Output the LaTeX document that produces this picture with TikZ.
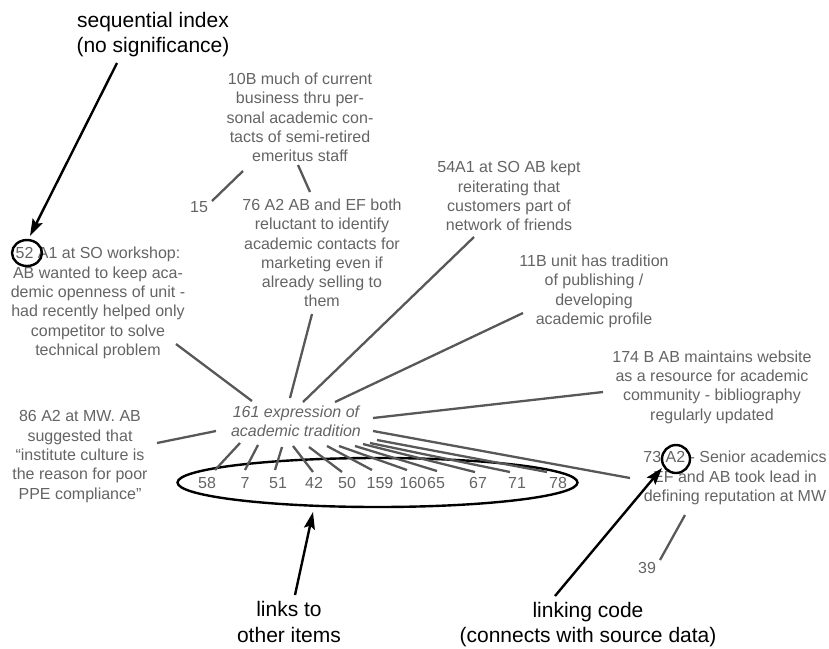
\documentclass[tikz,border=0pt]{standalone}
\usepackage{fontspec}
\setmainfont{Liberation Sans}
\usetikzlibrary{arrows.meta,shapes.geometric}
\definecolor{txtgray}{RGB}{100,100,100}
\definecolor{lngray}{RGB}{88,88,88}
\tikzset{
  item/.style={inner sep=0pt, align=center, text=txtgray, font=\fontsize{16}{19.3}\selectfont},
  num/.style={inner sep=0pt, text=txtgray, font=\fontsize{16}{19.3}\selectfont},
  note/.style={inner sep=0pt, align=center, text=black, font=\fontsize{21}{25.5}\selectfont},
  link/.style={draw=lngray, line width=2.3pt},
  pointer/.style={draw=black, line width=2.4pt, -{Stealth[length=17pt,width=11pt,inset=3pt]}},
  ring/.style={draw=black, line width=2.4pt}
}
\begin{document}
\begin{tikzpicture}[x=1pt,y=-1pt]
\useasboundingbox (0,0) rectangle (829,648);
% annotations
\node[note] (seq) at (153,34.5) {sequential index\\(no significance)};
\node[note] (lnk) at (289,622) {links to\\other items};
\node[note] (code) at (588,624.5) {linking code\\(connects with source data)};
% items
\node[item] (i10) at (300,117.5) {10B much of current\\business thru per-\\sonal academic con-\\tacts of semi-retired\\emeritus staff};
\node[num] (i15) at (199,207) {15};
\node[item] (i76) at (322,253) {76 A2 AB and EF both\\reluctant to identify\\academic contacts for\\marketing even if\\already selling to\\them};
\node[item] (i54) at (509,196) {54A1 at SO AB kept\\reiterating that\\customers part of\\network of friends};
\node[item] (i11) at (594,291.5) {11B unit has tradition\\of publishing /\\developing\\academic profile};
\node[item] (i52) at (98,303) {52 A1 at SO workshop:\\AB wanted to keep aca-\\demic openness of unit -\\had recently helped only\\competitor to solve\\technical problem};
\node[item] (i86) at (80,456.5) {86 A2 at MW. AB\\suggested that\\“institute culture is\\the reason for poor\\PPE compliance”};
\node[item,font=\fontsize{16}{19.3}\selectfont\itshape] (c161) at (296,421.5) {161 expression of\\academic tradition};
\node[item] (i174) at (712,387) {174 B AB maintains website\\as a resource for academic\\community - bibliography\\regularly updated};
\node[item] (i73) at (735,478) {73 A2 - Senior academics\\EF and AB took lead in\\defining reputation at MW};
\node[num] (i39) at (647,568) {39};
% linked numbers
\node[num] (n58) at (207,483) {58};
\node[num] (n7) at (245,483) {7};
\node[num] (n51) at (278,483) {51};
\node[num] (n42) at (314,483) {42};
\node[num] (n50) at (347,483) {50};
\node[num] (n159) at (380,483) {159};
\node[num] (n160) at (413,483) {160};
\node[num] (n65) at (436,483) {65};
\node[num] (n67) at (478,483) {67};
\node[num] (n71) at (517,483) {71};
\node[num] (n78) at (558,483) {78};
% ellipse round the links
\node[ring, ellipse, minimum width=400pt, minimum height=49pt, inner sep=0pt] (links) at (377.5,482.5) {};
% rings round the codes
\draw[ring] (27,253) ellipse [x radius=15, y radius=13];
\draw[ring] (676,459) ellipse [x radius=14, y radius=14];
% connector end points
\coordinate (a58) at (240,443); \coordinate (b58) at (215,470);
\coordinate (a7) at (258,445);  \coordinate (b7) at (245,470);
\coordinate (a51) at (282,447); \coordinate (b51) at (275,470);
\coordinate (a42) at (293,446); \coordinate (b42) at (313,472);
\coordinate (a50) at (309,447); \coordinate (b50) at (342,472);
\coordinate (a159) at (327,446); \coordinate (b159) at (372,470);
\coordinate (a160) at (339,446); \coordinate (b160) at (407,470);
\coordinate (a65) at (355,446); \coordinate (b65) at (437,471);
\coordinate (a67) at (363,444); \coordinate (b67) at (475,472);
\coordinate (a71) at (370,443); \coordinate (b71) at (510,472);
\coordinate (a78) at (377,440); \coordinate (b78) at (547,472);
\coordinate (a73) at (373,431); \coordinate (b73) at (630,478);
\coordinate (a174) at (373,418); \coordinate (b174) at (603,392);
\coordinate (a86) at (216,431); \coordinate (b86) at (157,443);
\coordinate (a52) at (252,401); \coordinate (b52) at (176,344);
\coordinate (a76) at (290,398); \coordinate (b76) at (312,314);
\coordinate (a54) at (303,402); \coordinate (b54) at (474,237);
\coordinate (a11) at (335,402); \coordinate (b11) at (523,313);
\coordinate (a15) at (212,201); \coordinate (b15) at (243,171);
\coordinate (a10) at (298,165); \coordinate (b10) at (310,192);
\coordinate (a39) at (685,515); \coordinate (b39) at (660,560);
% connectors
\foreach \k in {58,7,51,42,50,159,160,65,67,71,78,73,174,86,52,76,54,11,15,10,39}
  \draw[link] (a\k) -- (b\k);
% pointers
\coordinate (seqtip) at (30,236); \coordinate (seqfoot) at (117,63);
\coordinate (lnktip) at (313,512); \coordinate (lnkfoot) at (295,595);
\coordinate (codetip) at (662,468); \coordinate (codefoot) at (555,596);
\draw[pointer] (seqfoot) -- (seqtip);
\draw[pointer] (lnkfoot) -- (lnktip);
\draw[pointer] (codefoot) -- (codetip);
\end{tikzpicture}
\end{document}
